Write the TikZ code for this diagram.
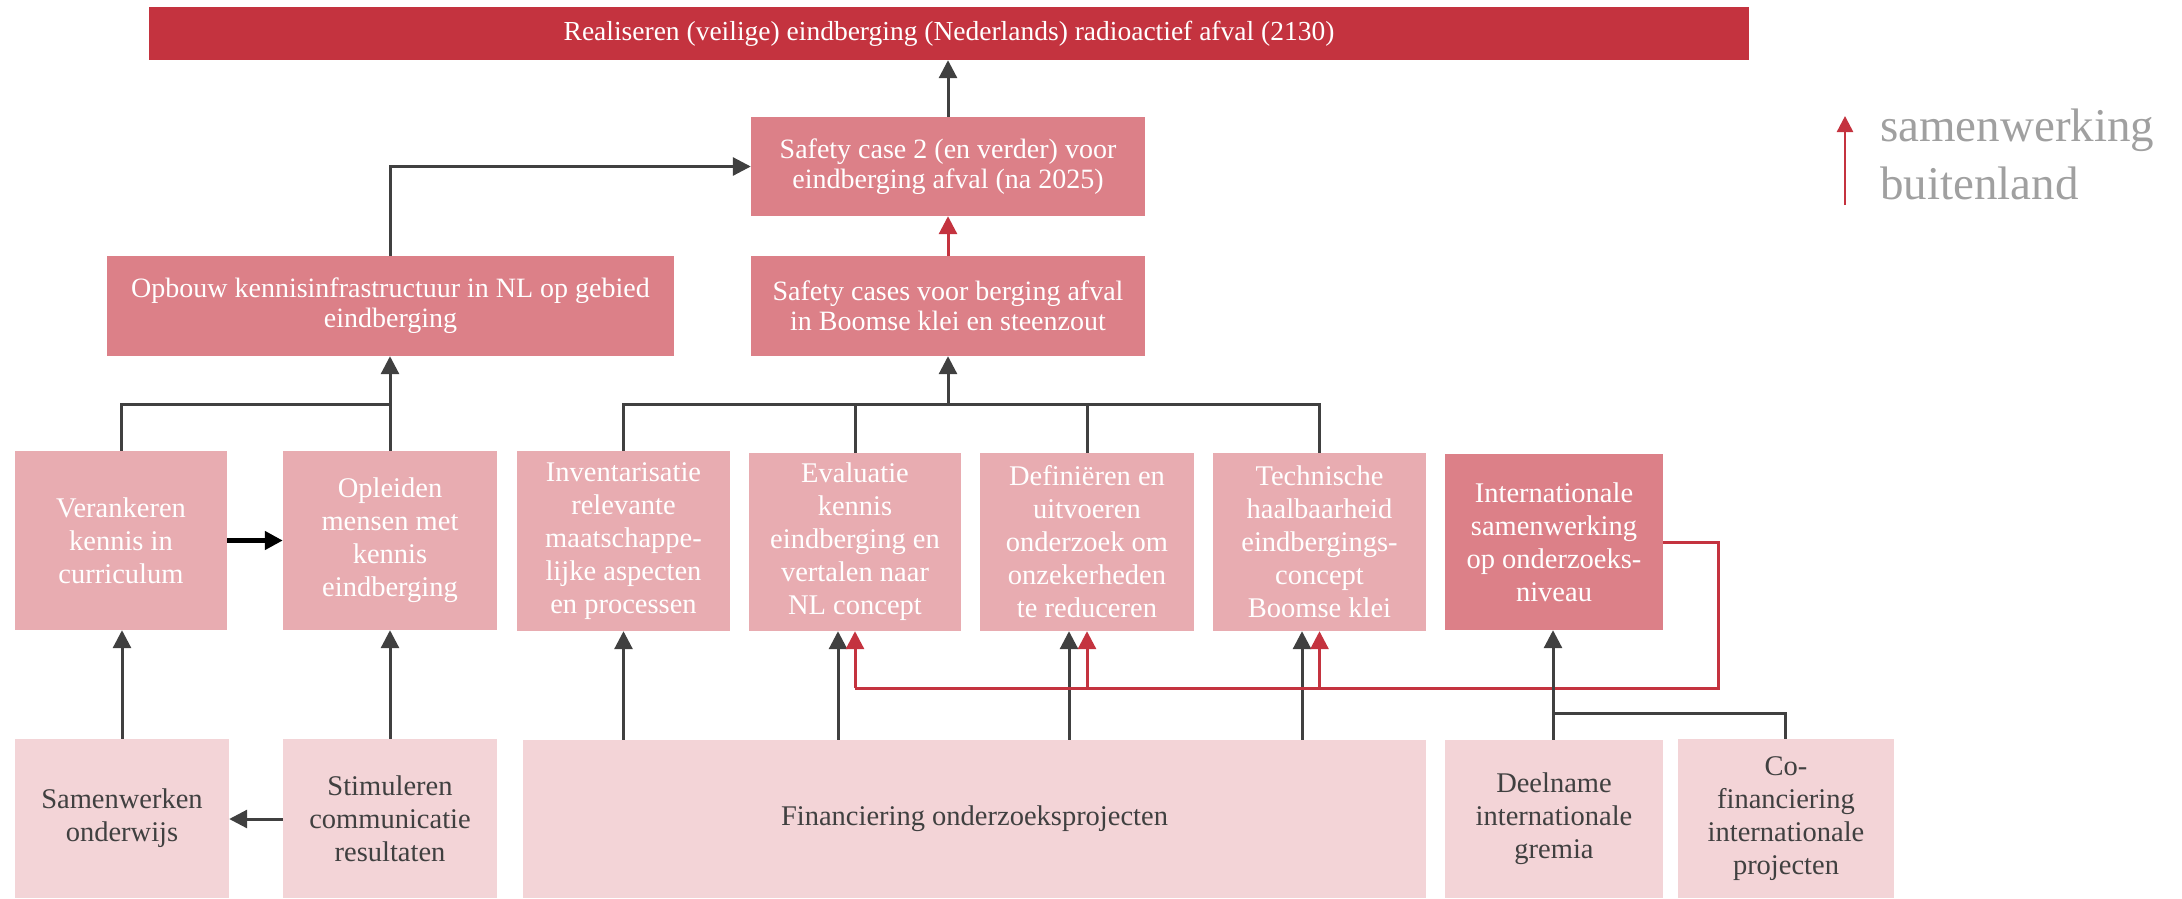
\documentclass[tikz,border=0pt]{standalone}
\usepackage{fontspec}
\setmainfont{Liberation Serif}
\usetikzlibrary{arrows.meta}
\definecolor{cTop}{HTML}{C4333F}
\definecolor{cMid}{HTML}{DC8088}
\definecolor{cLight}{HTML}{E8ACB1}
\definecolor{cPale}{HTML}{F3D4D7}
\definecolor{cLine}{HTML}{404040}
\definecolor{cRed}{HTML}{C4333F}
\definecolor{cLegend}{HTML}{A0A0A0}
\begin{document}
\begin{tikzpicture}[x=1pt,y=-1pt,
  box/.style={rectangle, draw=none, inner sep=2pt, align=center, text=white},
  topbox/.style={box, fill=cTop, font=\fontsize{27.5}{30}\selectfont},
  midbox/.style={box, fill=cMid, font=\fontsize{28}{30}\selectfont},
  lightbox/.style={box, fill=cLight, font=\fontsize{28.5}{33}\selectfont},
  palebox/.style={box, fill=cPale, text=cLine, font=\fontsize{28.5}{33}\selectfont},
  conn/.style={draw=cLine, line width=3pt},
  arr/.style={conn, -{Triangle[width=18pt,length=18pt]}},
  redconn/.style={draw=cRed, line width=3pt},
  redarr/.style={redconn, -{Triangle[width=18pt,length=18pt]}},
  bigarr/.style={draw=black, line width=4.5pt, -{Triangle[width=18pt,length=18pt]}}
]
\useasboundingbox (0,0) rectangle (2182,898);

% row 1 and 2
\node[topbox, minimum width=1600pt, minimum height=53pt] (top) at (949,33.5)
  {Realiseren (veilige) eindberging (Nederlands) radioactief afval (2130)};
\node[midbox, minimum width=394pt, minimum height=99pt] (sc2) at (948,166.5)
  {Safety case 2 (en verder) voor\\eindberging afval (na 2025)};
\node[midbox, minimum width=394pt, minimum height=100pt] (sc) at (948,306)
  {Safety cases voor berging afval\\in Boomse klei en steenzout};
\node[midbox, minimum width=567pt, minimum height=100pt] (opb) at (390.5,306)
  {Opbouw kennisinfrastructuur in NL op gebied\\eindberging};

% row 3
\node[lightbox, minimum width=212pt, minimum height=179pt] (ver) at (121,540.5)
  {Verankeren\\kennis in\\curriculum};
\node[lightbox, minimum width=214pt, minimum height=179pt] (opl) at (390,540.5)
  {Opleiden\\mensen met\\kennis\\eindberging};
\node[lightbox, minimum width=213pt, minimum height=180pt] (inv) at (623.5,541)
  {Inventarisatie\\relevante\\maatschappe-\\lijke aspecten\\en processen};
\node[lightbox, minimum width=212pt, minimum height=178pt] (eva) at (855,542)
  {Evaluatie\\kennis\\eindberging en\\vertalen naar\\NL concept};
\node[lightbox, minimum width=214pt, minimum height=178pt] (def) at (1087,542)
  {Definiëren en\\uitvoeren\\onderzoek om\\onzekerheden\\te reduceren};
\node[lightbox, minimum width=213pt, minimum height=178pt] (tec) at (1319.5,542)
  {Technische\\haalbaarheid\\eindbergings-\\concept\\Boomse klei};
\node[midbox, font=\fontsize{28.5}{33}\selectfont, minimum width=218pt, minimum height=176pt] (int) at (1554,542)
  {Internationale\\samenwerking\\op onderzoeks-\\niveau};

% row 4
\node[palebox, minimum width=214pt, minimum height=159pt] (sam) at (122,818.5)
  {Samenwerken\\onderwijs};
\node[palebox, minimum width=214pt, minimum height=159pt] (sti) at (390,818.5)
  {Stimuleren\\communicatie\\resultaten};
\node[palebox, minimum width=903pt, minimum height=158pt] (fin) at (974.5,819)
  {Financiering onderzoeksprojecten};
\node[palebox, minimum width=218pt, minimum height=158pt] (dee) at (1554,819)
  {Deelname\\internationale\\gremia};
\node[palebox, minimum width=216pt, minimum height=159pt] (cof) at (1786,818.5)
  {Co-\\financiering\\internationale\\projecten};

% connectors, upper part
\draw[arr] (sc2.north) -- (sc2.north |- top.south);
\draw[arr] (opb.north) |- (sc2.west);
\draw[redarr] (sc.north) -- (sc2.south);

% left group
\coordinate (jl) at (390,404);
\draw[conn] (ver.north) |- (jl);
\draw[arr] (opl.north) -- (opl.north |- opb.south);
\draw[bigarr] (ver.east) -- (opl.west);
\draw[arr] (sam.north) -- (sam.north |- ver.south);
\draw[arr] (sti.north) -- (opl.south);
\draw[arr] (sti.west |- 0,819) -- (sam.east |- 0,819);

% middle group
\coordinate (jm) at (948,404);
\draw[conn] (inv.north) |- (tec.north |- jm) -- (tec.north);
\draw[conn] (eva.north) -- (eva.north |- jm);
\draw[conn] (def.north) -- (def.north |- jm);
\draw[arr] (jm) -- (sc.south);

% financing arrows
\draw[arr] (inv.south |- fin.north) -- (inv.south);
\draw[arr] ([xshift=-17pt]eva.south |- fin.north) -- ([xshift=-17pt]eva.south);
\draw[arr] ([xshift=-18pt]def.south |- fin.north) -- ([xshift=-18pt]def.south);
\draw[arr] ([xshift=-17.5pt]tec.south |- fin.north) -- ([xshift=-17.5pt]tec.south);

% red international collaboration lines
\coordinate (rc) at (1718,688);
\draw[redconn] (int.east) -| (rc) -- (eva.south |- rc);
\draw[redarr] (eva.south |- rc) -- (eva.south);
\draw[redarr] (def.south |- rc) -- (def.south);
\draw[redarr] (tec.south |- rc) -- (tec.south);

% international group
\coordinate (ji) at (1553,713);
\draw[arr] (dee.north -| ji) -- (int.south -| ji);
\draw[conn] (cof.north -| 1785,0) |- (ji);

% legend
\coordinate (lg1) at (1845,205);
\coordinate (lg2) at (1845,116);
\draw[redconn, line width=2.5pt, -{Triangle[width=16pt,length=16pt]}] (lg1) -- (lg2);
\node[anchor=north west, inner sep=0pt, align=left, text=cLegend,
  font=\fontsize{47}{58}\selectfont] (leg) at (1880,109) {samenwerking\\buitenland};
\end{tikzpicture}
\end{document}
